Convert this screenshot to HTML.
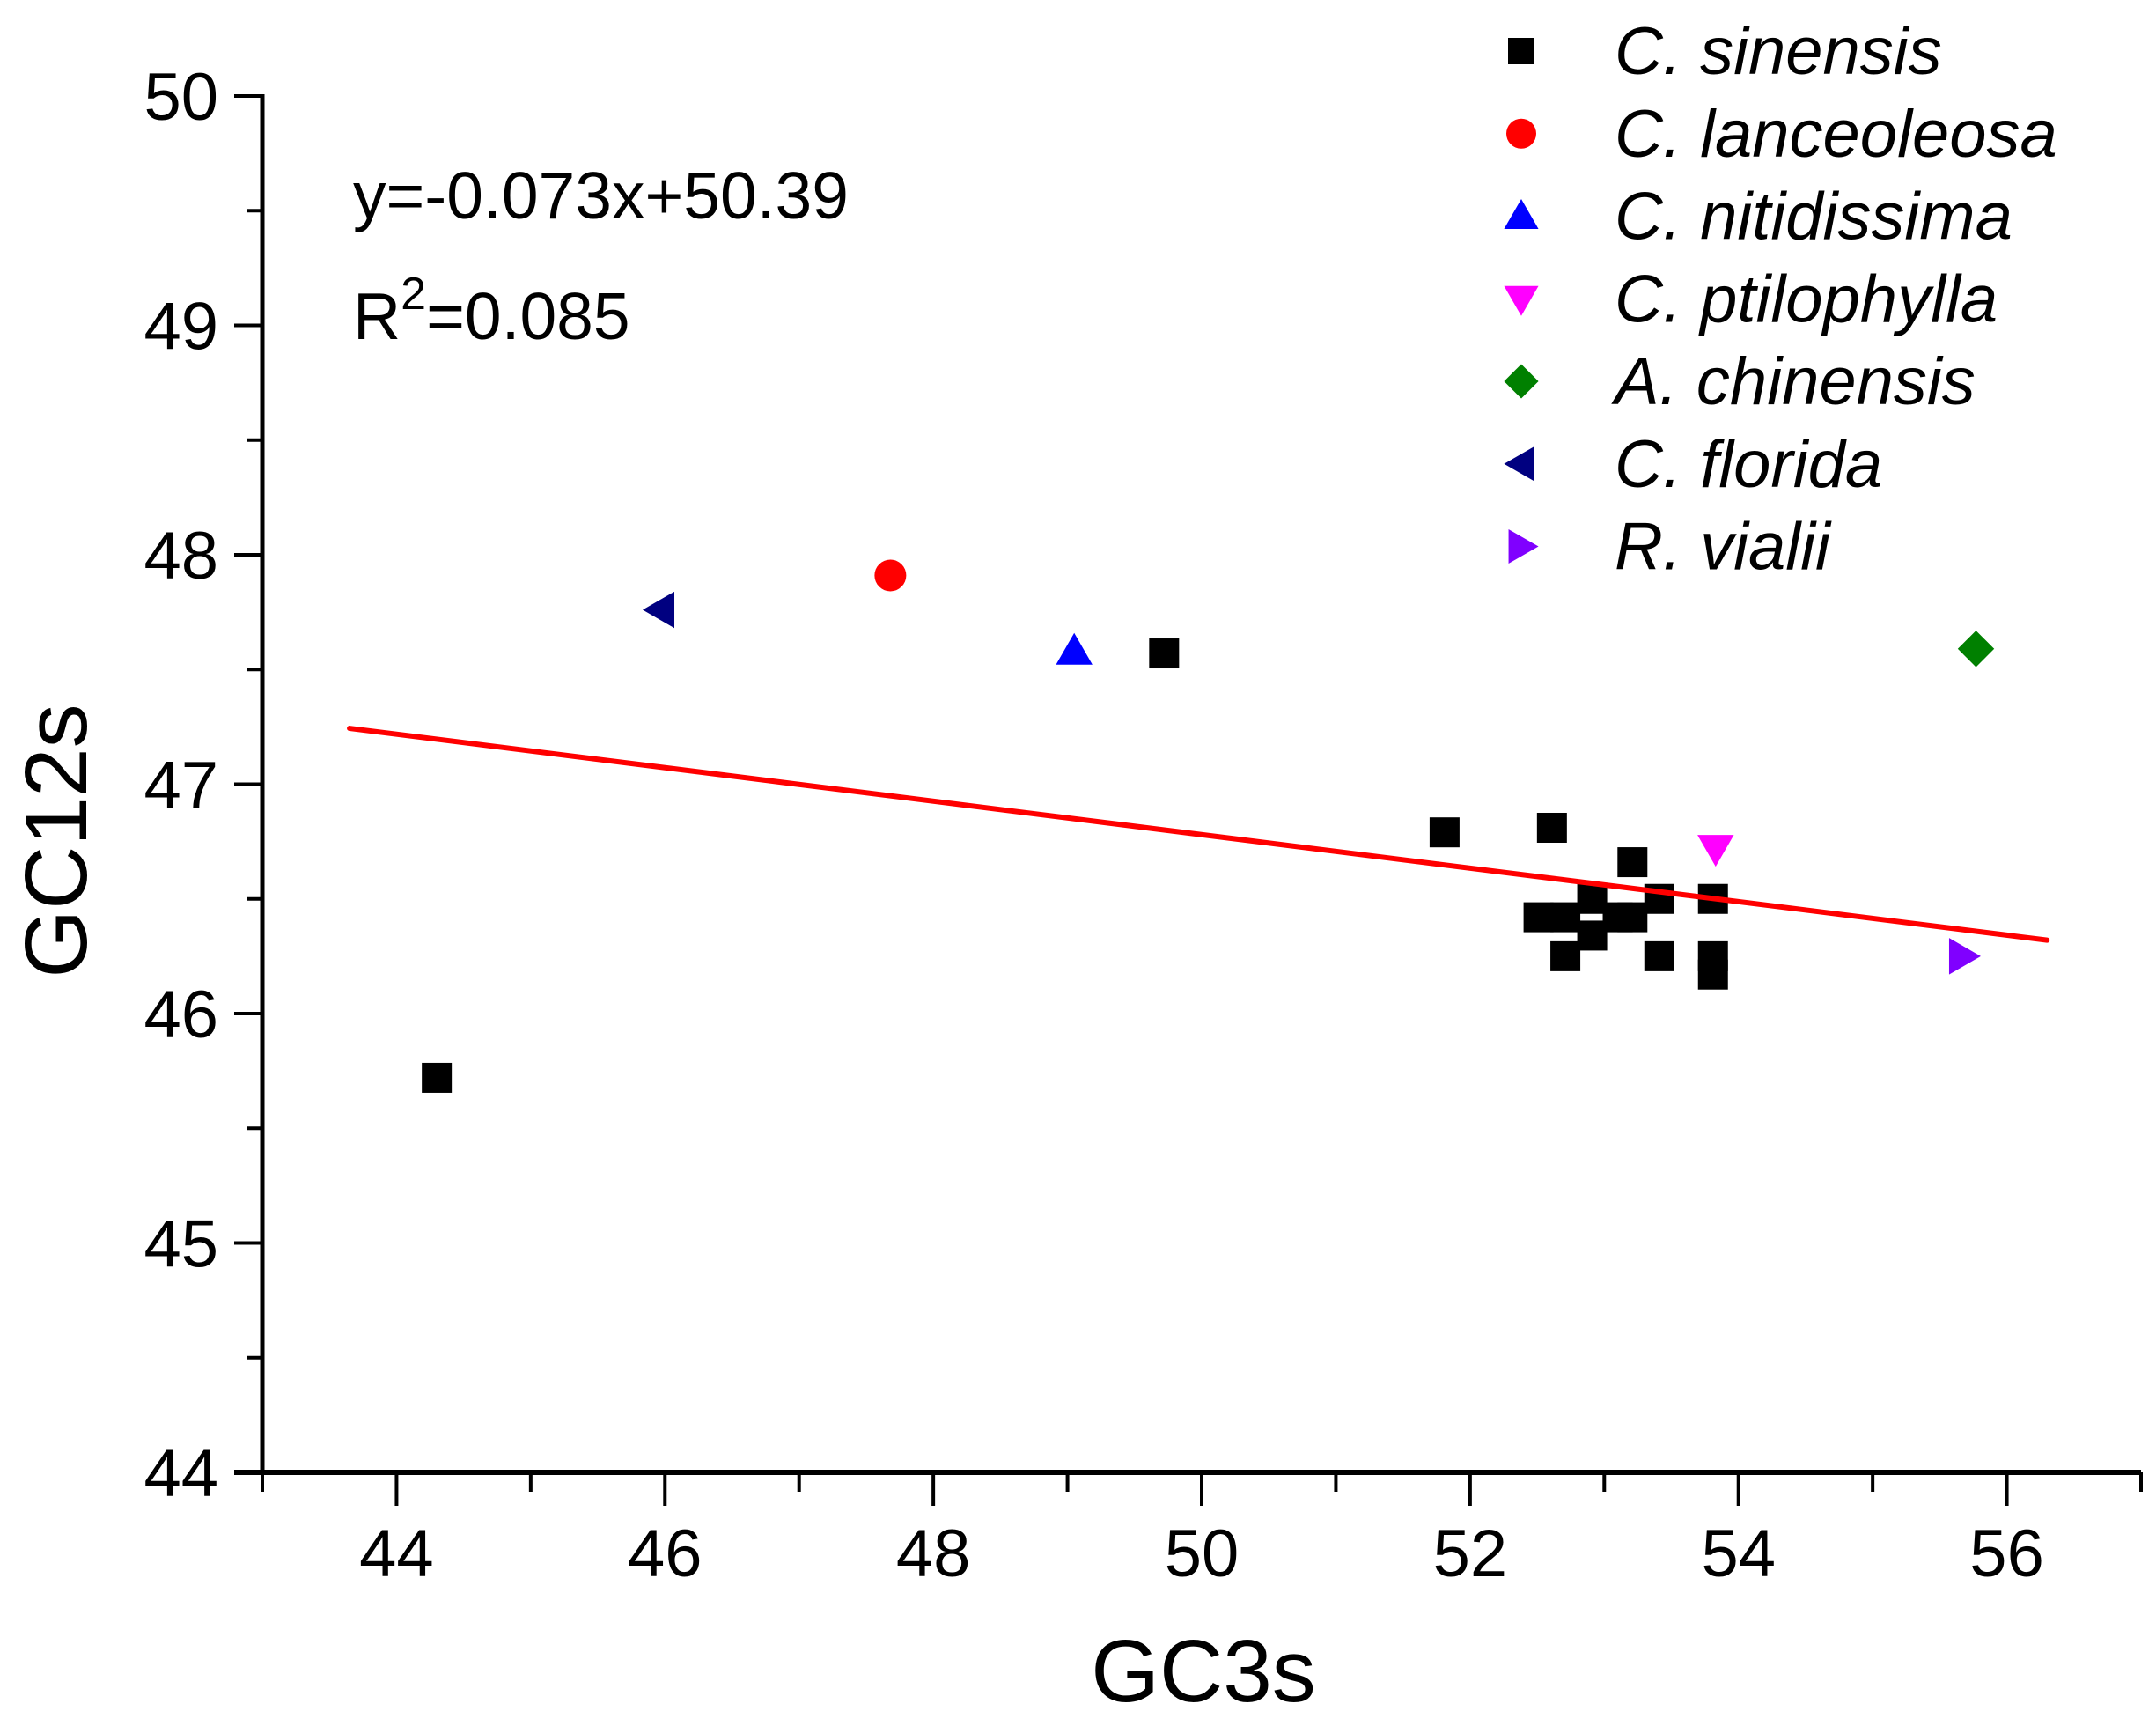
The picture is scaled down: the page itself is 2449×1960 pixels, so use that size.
<!DOCTYPE html>
<html><head><meta charset="utf-8"><style>
html,body{margin:0;padding:0;background:#fff;}
svg{display:block;font-family:"Liberation Sans",Arial,sans-serif;}
</style></head><body>
<svg id="chart" width="2449" height="1960" viewBox="0 0 2449 1960">
<g id="axes"></g>
<g id="marks"></g>
<text x="401" y="248" font-size="75">y=-0.073x+50.39</text>
<text x="401" y="385" font-size="75">R<tspan dy="-34" font-size="52">2</tspan><tspan dy="34">=0.085</tspan></text>
<text x="1367" y="1932" font-size="100" text-anchor="middle">GC3s</text>
<text transform="translate(98,955) rotate(-90)" font-size="100" text-anchor="middle">GC12s</text>
<g id="legend"></g>
</svg>
<script>
const species = ["C. sinensis","C. lanceoleosa","C. nitidissima","C. ptilophylla","A. chinensis","C. florida","R. vialii"];
const colors = ["#000000","#ff0000","#0000ff","#ff00ff","#008000","#000080","#8000ff"];
const shapes = ["square","circle","up","down","diamond","left","right"];
const sinensisX = [44.3,49.72,51.81,52.61,53.21,53.41,53.81,52.51,52.91,53.21,52.71,52.91,52.71,53.41,53.81,53.81,53.1];
const sinensisY = [45.72,47.57,46.79,46.81,46.66,46.50,46.50,46.42,46.50,46.42,46.42,46.34,46.25,46.25,46.25,46.17,46.42];
const otherX = [47.68,49.05,53.83,55.77,45.97,55.67];
const otherY = [47.91,47.58,46.72,47.59,47.76,46.25];
const xTicks = [44,46,48,50,52,54,56];
const yTicks = [44,45,46,47,48,49,50];
const fitSlope = -0.073, fitIntercept = 50.43, fitX0 = 43.65, fitX1 = 56.3;

const NS="http://www.w3.org/2000/svg";
const X0=298, X1=2432, XMIN=43, XMAX=57;
const YTOP=109, YBOT=1672, YMIN=44, YMAX=50;
const sx=v=>X0+(v-XMIN)/(XMAX-XMIN)*(X1-X0);
const sy=v=>YBOT-(v-YMIN)/(YMAX-YMIN)*(YBOT-YTOP);
function mk(tag,attrs,parent){const e=document.createElementNS(NS,tag);for(const k in attrs)e.setAttribute(k,attrs[k]);parent.appendChild(e);return e;}
const axes=document.getElementById('axes');
let e=mk('line',{x1:X0,y1:YTOP-2,x2:X0,y2:YBOT+2,stroke:'#000','stroke-width':5},axes);


e=mk('line',{x1:X0-32,y1:YBOT,x2:X1,y2:YBOT,stroke:'#000','stroke-width':6},axes);


for(let v=XMIN;v<=XMAX;v+=1){
  const major=xTicks.includes(v);
  e=mk('line',{x1:sx(v),y1:YBOT,x2:sx(v),y2:YBOT+(major?38:22),stroke:'#000','stroke-width':4},axes);
  
  
}
xTicks.forEach(v=>{
  const t=mk('text',{x:sx(v),y:1790,'font-size':76,'text-anchor':'middle'},axes);t.textContent=v;
  
  
});
for(let v=YMIN;v<=YMAX;v+=0.5){
  const major=Number.isInteger(v);
  e=mk('line',{x1:X0-(major?32:18),y1:sy(v),x2:X0,y2:sy(v),stroke:'#000','stroke-width':4},axes);
  
  
}
yTicks.forEach(v=>{
  const t=mk('text',{x:248,y:sy(v)+27,'font-size':76,'text-anchor':'end'},axes);t.textContent=v;
  
  
});
const marks=document.getElementById('marks');
function marker(shape,cx,cy,color,r,parent){
  let el;
  if(shape==='square') el=mk('rect',{x:cx-r,y:cy-r,width:2*r,height:2*r,fill:color},parent);
  else if(shape==='circle') el=mk('circle',{cx:cx,cy:cy,r:r,fill:color},parent);
  else {
    let p;
    const h=r*1.15;
    if(shape==='up') p=[[cx,cy-h],[cx+h,cy+r*0.85],[cx-h,cy+r*0.85]];
    if(shape==='down') p=[[cx,cy+h],[cx+h,cy-r*0.85],[cx-h,cy-r*0.85]];
    if(shape==='left') p=[[cx-h,cy],[cx+r*0.85,cy-h],[cx+r*0.85,cy+h]];
    if(shape==='right') p=[[cx+h,cy],[cx-r*0.85,cy-h],[cx-r*0.85,cy+h]];
    if(shape==='diamond') p=[[cx,cy-h],[cx+h,cy],[cx,cy+h],[cx-h,cy]];
    el=mk('polygon',{points:p.map(q=>q.join(',')).join(' '),fill:color},parent);
  }
  return el;
}
sinensisX.forEach((x,i)=>{
  const m=marker('square',sx(x),sy(sinensisY[i]),'#000',17,marks);
  
  
});
otherX.forEach((x,i)=>{
  const m=marker(shapes[i+1],sx(x),sy(otherY[i]),colors[i+1],18,marks);
  
  
});
e=mk('line',{x1:sx(fitX0),y1:sy(fitSlope*fitX0+fitIntercept),x2:sx(fitX1),y2:sy(fitSlope*fitX1+fitIntercept),stroke:'#ff0000','stroke-width':6,'stroke-linecap':'round'},marks);


const legend=document.getElementById('legend');
species.forEach((s,i)=>{
  const y=58+i*93.75;
  const m=marker(shapes[i],1728,y,colors[i],i===0?15:17,legend);
  
  
  const t=mk('text',{x:1834,y:y+26,'font-size':76,'font-style':'italic'},legend);t.textContent=s;
  
  
});
</script>
</body></html>
